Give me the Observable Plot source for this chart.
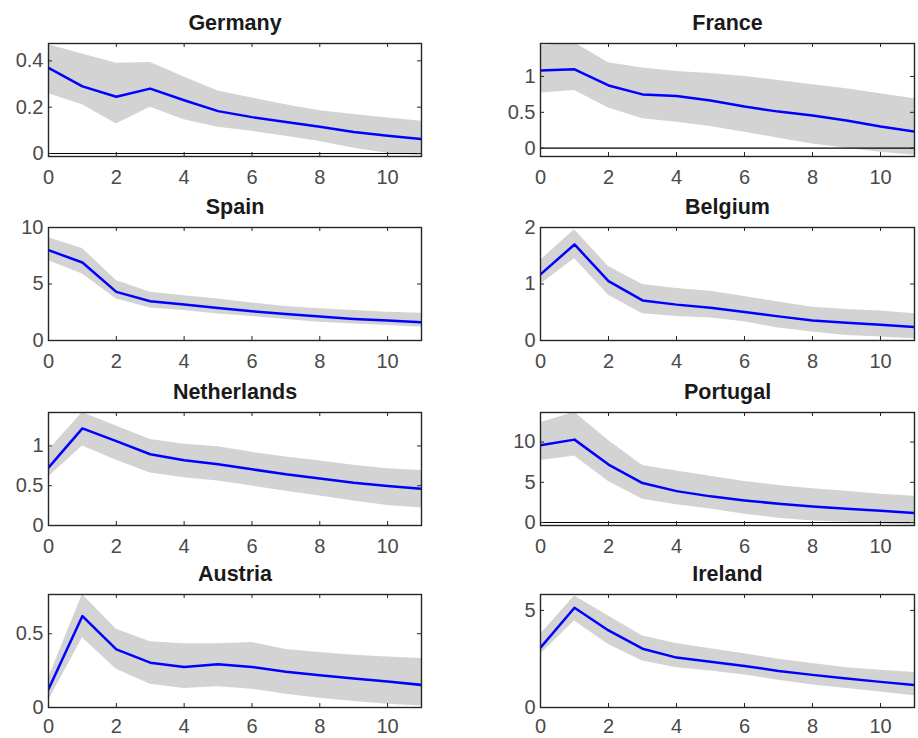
<!DOCTYPE html>
<html>
<head>
<meta charset="utf-8">
<script src="https://cdn.jsdelivr.net/npm/d3@7"></script>
<script src="https://cdn.jsdelivr.net/npm/@observablehq/plot@0.6"></script>
<style>
  html, body { margin: 0; padding: 0; background: #fff; }
  #fig { position: relative; width: 918px; height: 738px; overflow: hidden; }
  .panel { position: absolute; }
</style>
</head>
<body>
<div id="fig"></div>
<script>
// Horizon (x values)
const horizon = [0, 1, 2, 3, 4, 5, 6, 7, 8, 9, 10, 11];
const xTicks = [0, 2, 4, 6, 8, 10];

// Panel titles
const countries = ["Germany", "France", "Spain", "Belgium", "Netherlands", "Portugal", "Austria", "Ireland"];

// Median responses and bands
const germanyMid = [0.37, 0.29, 0.245, 0.28, 0.23, 0.183, 0.157, 0.136, 0.115, 0.093, 0.077, 0.062];
const germanyHi  = [0.47, 0.43, 0.39, 0.393, 0.33, 0.27, 0.24, 0.21, 0.185, 0.168, 0.153, 0.139];
const germanyLo  = [0.258, 0.21, 0.127, 0.2, 0.146, 0.113, 0.096, 0.074, 0.052, 0.023, 0.001, -0.01];

const franceMid = [1.085, 1.10, 0.875, 0.75, 0.727, 0.666, 0.58, 0.51, 0.457, 0.387, 0.303, 0.233];
const franceHi  = [1.43, 1.47, 1.19, 1.12, 1.07, 1.04, 1.0, 0.945, 0.885, 0.83, 0.76, 0.69];
const franceLo  = [0.77, 0.806, 0.56, 0.41, 0.363, 0.303, 0.223, 0.14, 0.06, 0.0, -0.056, -0.10];

const spainMid = [8.0, 6.9, 4.3, 3.47, 3.18, 2.88, 2.59, 2.35, 2.12, 1.91, 1.76, 1.62];
const spainHi  = [9.1, 8.15, 5.3, 4.26, 3.97, 3.68, 3.32, 3.0, 2.8, 2.65, 2.5, 2.41];
const spainLo  = [7.06, 5.88, 3.68, 2.88, 2.65, 2.35, 2.12, 1.85, 1.62, 1.47, 1.32, 1.18];

const belgiumMid = [1.17, 1.70, 1.05, 0.71, 0.635, 0.58, 0.505, 0.427, 0.356, 0.315, 0.28, 0.237];
const belgiumHi  = [1.42, 1.96, 1.31, 0.99, 0.92, 0.87, 0.78, 0.68, 0.59, 0.55, 0.52, 0.475];
const belgiumLo  = [0.99, 1.45, 0.80, 0.475, 0.427, 0.40, 0.33, 0.22, 0.15, 0.09, 0.06, 0.03];

const netherlandsMid = [0.727, 1.22, 1.06, 0.895, 0.82, 0.77, 0.706, 0.643, 0.59, 0.538, 0.496, 0.462];
const netherlandsHi  = [0.945, 1.42, 1.25, 1.08, 1.02, 0.99, 0.92, 0.86, 0.81, 0.756, 0.714, 0.69];
const netherlandsLo  = [0.61, 1.0, 0.82, 0.66, 0.6, 0.56, 0.496, 0.43, 0.37, 0.307, 0.252, 0.22];

const portugalMid = [9.6, 10.3, 7.2, 4.9, 3.9, 3.25, 2.75, 2.33, 2.0, 1.7, 1.46, 1.17];
const portugalHi  = [12.4, 13.7, 10.2, 7.1, 6.4, 5.75, 5.1, 4.6, 4.2, 3.9, 3.5, 3.25];
const portugalLo  = [7.7, 8.25, 5.1, 2.9, 2.2, 1.67, 1.04, 0.54, 0.2, 0.04, -0.17, -0.3];

const austriaMid = [0.124, 0.62, 0.394, 0.304, 0.275, 0.293, 0.275, 0.243, 0.218, 0.196, 0.176, 0.153];
const austriaHi  = [0.2, 0.766, 0.53, 0.446, 0.432, 0.432, 0.44, 0.394, 0.372, 0.354, 0.342, 0.333];
const austriaLo  = [0.045, 0.473, 0.259, 0.158, 0.128, 0.14, 0.124, 0.09, 0.063, 0.04, 0.022, 0.011];

const irelandMid = [3.08, 5.14, 3.97, 3.03, 2.57, 2.36, 2.14, 1.88, 1.68, 1.49, 1.32, 1.16];
const irelandHi  = [3.77, 5.74, 4.71, 3.68, 3.29, 3.03, 2.77, 2.48, 2.26, 2.05, 1.92, 1.8];
const irelandLo  = [2.74, 4.45, 3.25, 2.4, 2.05, 1.88, 1.68, 1.4, 1.16, 0.98, 0.8, 0.6];

// Y-axis limits and tick labels
const yDomains = [[-0.013, 0.475], [-0.116, 1.46], [0, 10], [0, 2], [0, 1.42], [-0.37, 13.67], [0, 0.766], [0, 5.82]];
const yTicks = [[0, 0.2, 0.4], [0, 0.5, 1], [0, 5, 10], [0, 1, 2], [0, 0.5, 1], [0, 5, 10], [0, 0.5], [0, 5]];

const mids = [germanyMid, franceMid, spainMid, belgiumMid, netherlandsMid, portugalMid, austriaMid, irelandMid];
const his  = [germanyHi, franceHi, spainHi, belgiumHi, netherlandsHi, portugalHi, austriaHi, irelandHi];
const los  = [germanyLo, franceLo, spainLo, belgiumLo, netherlandsLo, portugalLo, austriaLo, irelandLo];

const fig = document.getElementById("fig");
const axisColor = "#262626";
const labelColor = "#4a4a4a";
const font = "'Liberation Sans', Arial, Helvetica, sans-serif";
const fmt = d3.format("~g");

const rowTops = [0, 184, 369, 551];
const H = 184, MT = 43, MB = 28;

countries.forEach((name, i) => {
  const col = i % 2, row = Math.floor(i / 2);
  const left = col === 0 ? 0 : 460;
  const W = col === 0 ? 460 : 458;
  const ML = col === 0 ? 48 : 80;
  const MR = col === 0 ? 39 : 4;
  const frameW = W - ML - MR;
  const frameH = H - MT - MB;
  const data = horizon.map((h, k) => ({h, mid: mids[i][k], lo: los[i][k], hi: his[i][k]}));

  const chart = Plot.plot({
    width: W,
    height: H,
    marginTop: MT,
    marginBottom: MB,
    marginLeft: ML,
    marginRight: MR,
    style: {fontFamily: font, fontSize: "20px", color: labelColor, background: "transparent", overflow: "visible"},
    x: {domain: [0, 11]},
    y: {domain: yDomains[i]},
    marks: [
      Plot.areaY(data, {x: "h", y1: "lo", y2: "hi", fill: "#d3d3d3", clip: true}),
      Plot.ruleY([0], {stroke: "#000", strokeWidth: 1.2}),
      Plot.lineY(data, {x: "h", y: "mid", stroke: "#0000ff", strokeWidth: 2.5, clip: true}),
      Plot.tickX(xTicks, {x: d => d, insetTop: frameH - 4, stroke: axisColor}),
      Plot.tickX(xTicks, {x: d => d, insetBottom: frameH - 4, stroke: axisColor}),
      Plot.tickY(yTicks[i], {y: d => d, insetRight: frameW - 4, stroke: axisColor}),
      Plot.tickY(yTicks[i], {y: d => d, insetLeft: frameW - 4, stroke: axisColor}),
      Plot.frame({stroke: axisColor, strokeWidth: 1.4}),
      Plot.axisX({ticks: xTicks, tickSize: 0, tickPadding: row === 3 ? 11 : 13, label: null, fill: labelColor,
        tickFormat: fmt, letterSpacing: "0.8px"}),
      Plot.axisY({ticks: yTicks[i], tickSize: 0, tickPadding: 5, label: null, fill: labelColor,
        tickFormat: fmt, letterSpacing: "0.8px"}),
      Plot.text([name], {text: d => d, frameAnchor: "top", dy: -14, lineAnchor: "bottom",
        fontSize: 21.5, fontWeight: "bold", fill: "#1a1a1a", letterSpacing: "1px"})
    ]
  });
  const div = document.createElement("div");
  div.className = "panel";
  div.style.left = left + "px";
  div.style.top = rowTops[row] + "px";
  div.appendChild(chart);
  fig.appendChild(div);
});
</script>
</body>
</html>
